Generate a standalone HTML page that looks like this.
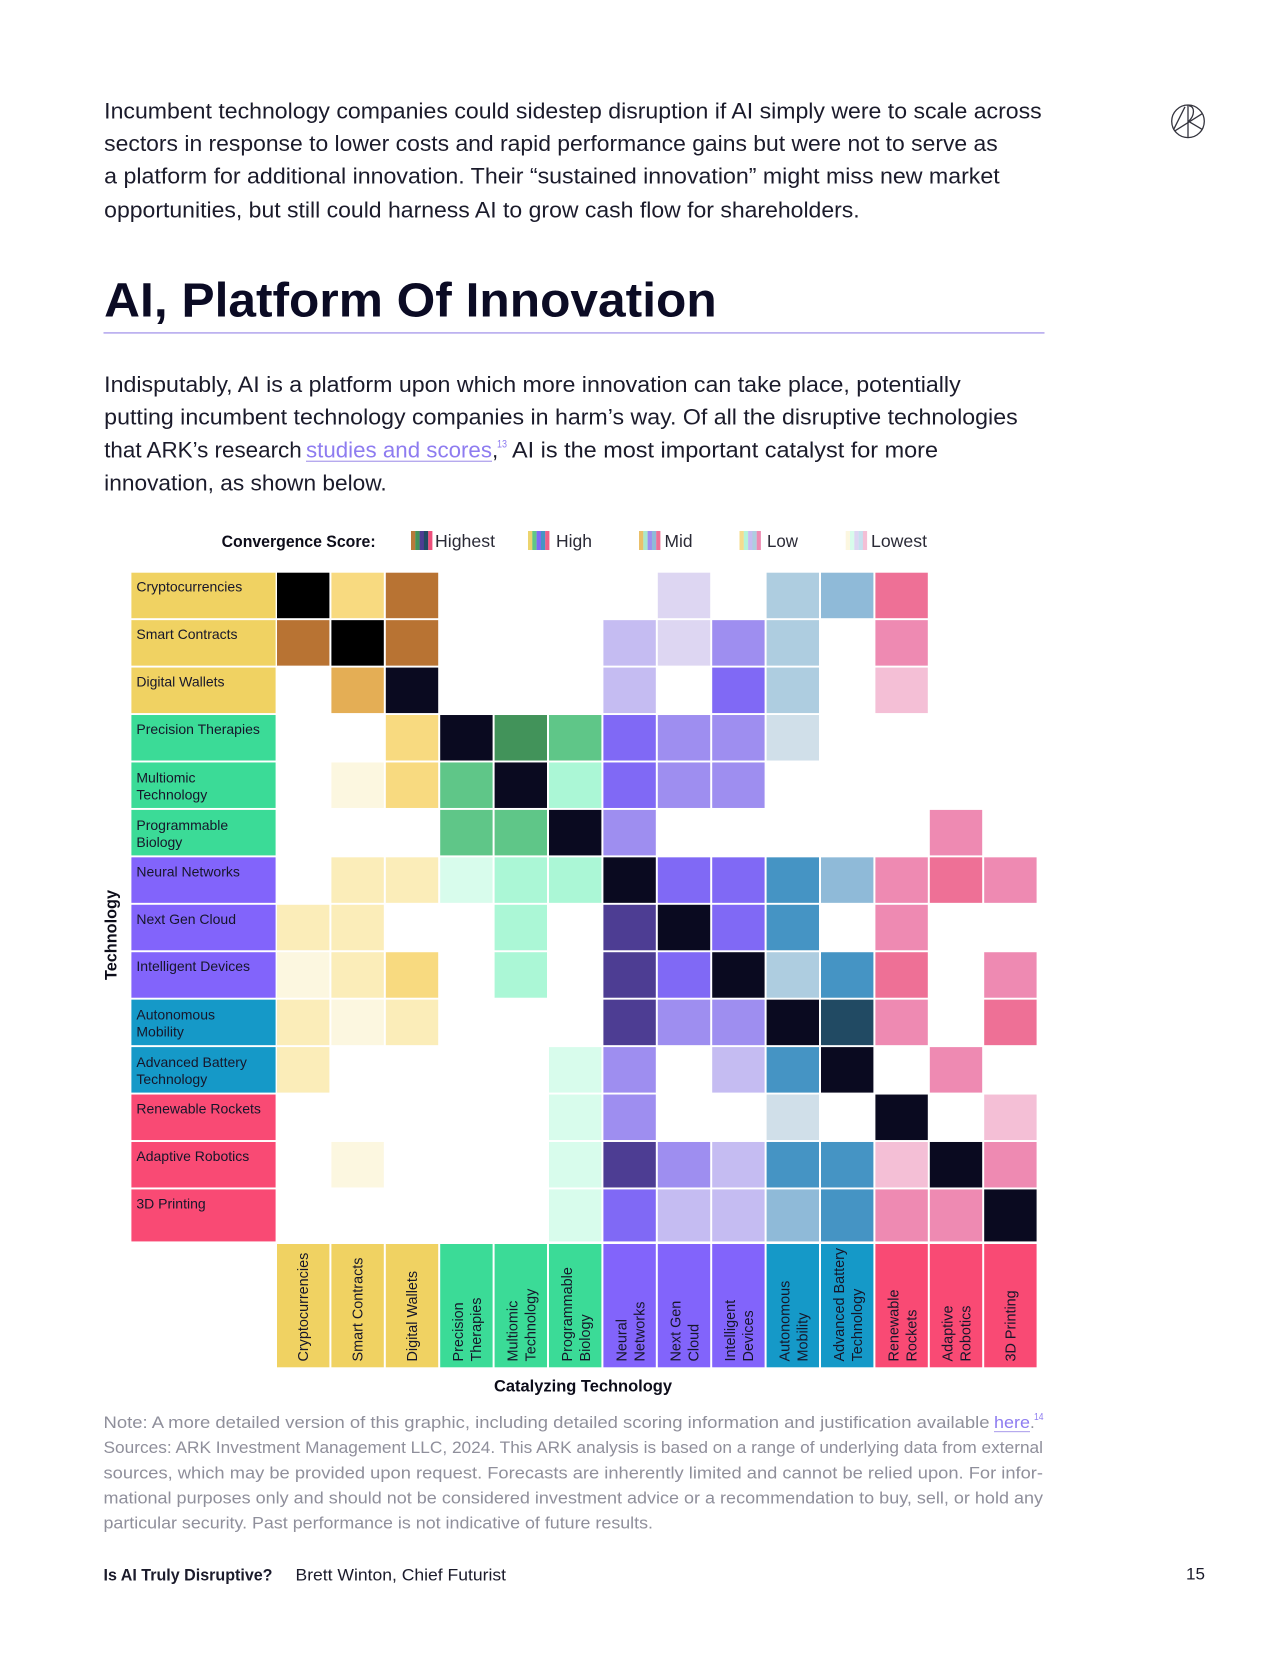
<!DOCTYPE html>
<html lang="en">
<head>
<meta charset="utf-8">
<title>AI, Platform Of Innovation</title>
<style>
html,body{margin:0;padding:0;background:#fff;}
svg{display:block;}
text{font-family:"Liberation Sans",sans-serif;}
.body-text{font-size:22.5px;fill:#1b1b2b;}
.note{font-size:17px;fill:#8f8f9b;}
.foot{font-size:17px;fill:#1b1b2b;}
.legend-text{font-size:17.5px;fill:#2a2a36;}
.axis-title{font-size:17px;font-weight:bold;fill:#0d0d1a;}
.row-label{font-size:14px;fill:#16162a;}
.col-label{font-size:14.4px;fill:#16162a;}
.link{fill:#8e7cf0;}
</style>
</head>
<body>
<svg id="page" xmlns="http://www.w3.org/2000/svg" width="1280" height="1656" viewBox="0 0 1280 1656">
<rect width="1280" height="1656" fill="#ffffff"/>

<g>
<text class="body-text" x="104.2" y="118.3" textLength="937.5" lengthAdjust="spacingAndGlyphs">Incumbent technology companies could sidestep disruption if AI simply were to scale across</text>
<text class="body-text" x="104.2" y="151.2" textLength="893.5" lengthAdjust="spacingAndGlyphs">sectors in response to lower costs and rapid performance gains but were not to serve as</text>
<text class="body-text" x="104.2" y="183.7" textLength="895.5" lengthAdjust="spacingAndGlyphs">a platform for additional innovation. Their “sustained innovation” might miss new market</text>
<text class="body-text" x="104.2" y="217.3" textLength="755.5" lengthAdjust="spacingAndGlyphs">opportunities, but still could harness AI to grow cash flow for shareholders.</text>
</g>

<g fill="none" stroke="#33333d" stroke-width="1.3" transform="translate(0,0.8)">
<circle cx="1188" cy="120.5" r="16.3"/>
<line x1="1188" y1="104.5" x2="1188" y2="137"/>
<line x1="1173.5" y1="129" x2="1185" y2="106"/>
<path d="M1189 105 C1195 105 1195 115 1188.5 120.5"/>
<line x1="1175" y1="130" x2="1202" y2="113"/>
<line x1="1188.5" y1="120.5" x2="1202" y2="128.5"/>
</g>

<text x="104.2" y="316.5" font-size="48" font-weight="bold" fill="#0b0b24" textLength="612.5" lengthAdjust="spacingAndGlyphs">AI, Platform Of Innovation</text>
<rect x="103.5" y="328.2" width="941" height="1.6" fill="#b6aaee" transform="translate(0,3.9)"/>

<g>
<text class="body-text" x="104.2" y="392" textLength="856.5" lengthAdjust="spacingAndGlyphs">Indisputably, AI is a platform upon which more innovation can take place, potentially</text>
<text class="body-text" x="104.2" y="424.5" textLength="913.5" lengthAdjust="spacingAndGlyphs">putting incumbent technology companies in harm’s way. Of all the disruptive technologies</text>
<text class="body-text" x="104.2" y="457.5" textLength="197.5" lengthAdjust="spacingAndGlyphs">that ARK’s research</text>
<text class="body-text link" x="306" y="457.5" textLength="186" lengthAdjust="spacingAndGlyphs">studies and scores</text>
<rect x="306" y="460.6" width="186" height="1.4" fill="#b6aaee"/>
<text class="body-text" x="492" y="457.5">,</text>
<text class="link" font-size="11" x="497" y="447.5" textLength="10" lengthAdjust="spacingAndGlyphs">13</text>
<text class="body-text" x="512" y="457.5" textLength="426" lengthAdjust="spacingAndGlyphs">AI is the most important catalyst for more</text>
<text class="body-text" x="104.2" y="490.5" textLength="282.5" lengthAdjust="spacingAndGlyphs">innovation, as shown below.</text>
</g>

<g>
<text x="221.6" y="547" font-size="17" font-weight="bold" fill="#0d0d1a" textLength="154" lengthAdjust="spacingAndGlyphs">Convergence Score:</text>

<g>
<g transform="translate(411,531)">
<rect x="0" width="4.4" height="19" fill="#b87a3b"/><rect x="4.3" width="4.4" height="19" fill="#42935a"/><rect x="8.6" width="4.4" height="19" fill="#4d3d93"/><rect x="12.9" width="4.4" height="19" fill="#214a63"/><rect x="17.2" width="4.2" height="19" fill="#ee4f7c"/>
</g>
<text class="legend-text" x="435" y="547" textLength="60" lengthAdjust="spacingAndGlyphs">Highest</text>
</g>

<g>
<g transform="translate(528,531)">
<rect x="0" width="4.4" height="19" fill="#ecd46e"/><rect x="4.3" width="4.4" height="19" fill="#5fc688"/><rect x="8.6" width="4.4" height="19" fill="#8069f5"/><rect x="12.9" width="4.4" height="19" fill="#4594c4"/><rect x="17.2" width="4.2" height="19" fill="#ee5f88"/>
</g>
<text class="legend-text" x="556" y="547" textLength="36" lengthAdjust="spacingAndGlyphs">High</text>
</g>

<g>
<g transform="translate(639,531)">
<rect x="0" width="4.4" height="19" fill="#eac06a"/><rect x="4.3" width="4.4" height="19" fill="#a9e8cc"/><rect x="8.6" width="4.4" height="19" fill="#9e8ef0"/><rect x="12.9" width="4.4" height="19" fill="#8fbad8"/><rect x="17.2" width="4.2" height="19" fill="#ee7096"/>
</g>
<text class="legend-text" x="664.5" y="547" textLength="28" lengthAdjust="spacingAndGlyphs">Mid</text>
</g>

<g>
<g transform="translate(739.5,531)">
<rect x="0" width="4.4" height="19" fill="#f4dc8e"/><rect x="4.3" width="4.4" height="19" fill="#b5f3d8"/><rect x="8.6" width="4.4" height="19" fill="#c5bcf2"/><rect x="12.9" width="4.4" height="19" fill="#aecde0"/><rect x="17.2" width="4.2" height="19" fill="#ee8ab2"/>
</g>
<text class="legend-text" x="767" y="547" textLength="31" lengthAdjust="spacingAndGlyphs">Low</text>
</g>

<g>
<g transform="translate(845.7,531)">
<rect x="0" width="4.4" height="19" fill="#fcf7e0"/><rect x="4.3" width="4.4" height="19" fill="#d8fcec"/><rect x="8.6" width="4.4" height="19" fill="#ddd6f2"/><rect x="12.9" width="4.4" height="19" fill="#c6e0ee"/><rect x="17.2" width="4.2" height="19" fill="#f4bfd6"/>
</g>
<text class="legend-text" x="871" y="547" textLength="56" lengthAdjust="spacingAndGlyphs">Lowest</text>
</g>
</g>

<g id="heatmap"></g>

<text class="axis-title" transform="translate(116.5,980) rotate(-90)" textLength="90" lengthAdjust="spacingAndGlyphs">Technology</text>
<text class="axis-title" x="488" y="1375" dx="6" dy="16.5" textLength="178" lengthAdjust="spacingAndGlyphs">Catalyzing Technology</text>

<g>
<text class="note" x="103.5" y="1428" textLength="886" lengthAdjust="spacingAndGlyphs">Note: A more detailed version of this graphic, including detailed scoring information and justification available</text>
<text class="note link" x="994" y="1428" textLength="36" lengthAdjust="spacingAndGlyphs">here</text>
<rect x="994" y="1431" width="36" height="1.2" fill="#b6aaee"/>
<text class="note" x="1030" y="1428">.</text>
<text class="link" font-size="10" x="1034" y="1420" textLength="9.5" lengthAdjust="spacingAndGlyphs">14</text>
<text class="note" x="103.5" y="1453" textLength="939.5" lengthAdjust="spacingAndGlyphs">Sources: ARK Investment Management LLC, 2024. This ARK analysis is based on a range of underlying data from external</text>
<text class="note" x="103.5" y="1478.5" textLength="939.5" lengthAdjust="spacingAndGlyphs">sources, which may be provided upon request. Forecasts are inherently limited and cannot be relied upon. For infor-</text>
<text class="note" x="103.5" y="1503.5" textLength="939.5" lengthAdjust="spacingAndGlyphs">mational purposes only and should not be considered investment advice or a recommendation to buy, sell, or hold any</text>
<text class="note" x="103.5" y="1528.5" textLength="549.5" lengthAdjust="spacingAndGlyphs">particular security. Past performance is not indicative of future results.</text>
</g>

<g>
<text class="foot" font-weight="bold" x="103.5" y="1580.5" textLength="169" lengthAdjust="spacingAndGlyphs">Is AI Truly Disruptive?</text>
<text class="foot" x="295.5" y="1580.5" textLength="210.5" lengthAdjust="spacingAndGlyphs">Brett Winton, Chief Futurist</text>
<text class="foot" font-size="18" x="1186" y="1579.5" textLength="19" lengthAdjust="spacingAndGlyphs">15</text>
</g>
</svg>

<script>
// Row categories (technology) and column categories (catalyzing technology)
const rowCategories = ["Cryptocurrencies","Smart Contracts","Digital Wallets","Precision Therapies","Multiomic\nTechnology","Programmable\nBiology","Neural Networks","Next Gen Cloud","Intelligent Devices","Autonomous\nMobility","Advanced Battery\nTechnology","Renewable Rockets","Adaptive Robotics","3D Printing"];
const colCategories = ["Cryptocurrencies","Smart Contracts","Digital Wallets","Precision\nTherapies","Multiomic\nTechnology","Programmable\nBiology","Neural\nNetworks","Next Gen\nCloud","Intelligent\nDevices","Autonomous\nMobility","Advanced Battery\nTechnology","Renewable\nRockets","Adaptive\nRobotics","3D Printing"];
// Sector family per category
const families = ["yellow","yellow","yellow","green","green","green","purple","purple","purple","blue","blue","pink","pink","pink"];
// Scores: 0 blank, 1 lowest, 2 low, 3 mid, 4 high, 5 highest, 6 self (navy), 7 self (black)
const scoreRow00 = [7,3,5,0,0,0,0,1,0,2,3,4,0,0];
const scoreRow01 = [5,7,5,0,0,0,2,1,3,2,0,3,0,0];
const scoreRow02 = [0,4,6,0,0,0,2,0,4,2,0,2,0,0];
const scoreRow03 = [0,0,3,6,5,4,4,3,3,1,0,0,0,0];
const scoreRow04 = [0,1,3,4,6,2,4,3,3,0,0,0,0,0];
const scoreRow05 = [0,0,0,4,4,6,3,0,0,0,0,0,3,0];
const scoreRow06 = [0,2,2,1,2,2,6,4,4,4,3,3,4,3];
const scoreRow07 = [2,2,0,0,2,0,5,6,4,4,0,3,0,0];
const scoreRow08 = [1,2,3,0,2,0,5,4,6,2,4,4,0,3];
const scoreRow09 = [2,1,2,0,0,0,5,3,3,6,5,3,0,4];
const scoreRow10 = [2,0,0,0,0,1,3,0,2,4,6,0,3,0];
const scoreRow11 = [0,0,0,0,0,1,3,0,0,1,0,6,0,2];
const scoreRow12 = [0,1,0,0,0,1,5,3,2,4,4,2,6,3];
const scoreRow13 = [0,0,0,0,0,1,4,2,2,3,4,3,3,6];
const scores = [scoreRow00,scoreRow01,scoreRow02,scoreRow03,scoreRow04,scoreRow05,scoreRow06,scoreRow07,scoreRow08,scoreRow09,scoreRow10,scoreRow11,scoreRow12,scoreRow13];
// Colour ramps by family, index = score
const yellowRamp = ["none","#fcf7e0","#fbedb9","#f8da80","#e4ae55","#b87333","#0a0a20","#000000"];
const greenRamp = ["none","#d8fcec","#abf7d6","#abf7d6","#5fc688","#42935a","#0a0a20","#000000"];
const purpleRamp = ["none","#ddd6f2","#c5bcf2","#9e8ef0","#8069f5","#4d3d93","#0a0a20","#000000"];
const blueRamp = ["none","#d0dfe9","#aecde0","#8fbad8","#4594c4","#214a63","#0a0a20","#000000"];
const pinkRamp = ["none","#f4bfd6","#f4bfd6","#ee8ab2","#ee7096","#ee4f7c","#0a0a20","#000000"];
const ramps = {yellow:yellowRamp,green:greenRamp,purple:purpleRamp,blue:blueRamp,pink:pinkRamp};
const headerColors = {yellow:"#f0d262",green:"#3bdb97",purple:"#8264fb",blue:"#1599c8",pink:"#f94a74"};

const SVGNS = "http://www.w3.org/2000/svg";
const root = document.getElementById("heatmap");

// Axis functions
const gridLeft = 277, colPitch = 54.4, colWidth = 52.4;
const gridTop = 572.7, rowPitch = 47.44, rowHeight = 45.5;
const labelLeft = 131.4, labelWidth = 144.2;
const headerTop = 1244, headerBottom = 1367.3;
function xScale(c){ return gridLeft + c * colPitch; }
function yScale(r){ return gridTop + r * rowPitch; }
function bandHeight(r){ return r === rowCategories.length - 1 ? rowHeight + 6.5 : rowHeight; }
function slug(s){ return s.toLowerCase().replace(/\s+/g,"-"); }

function makeRect(x,y,w,h,fill){
  const el = document.createElementNS(SVGNS,"rect");
  el.setAttribute("x",x);
  el.setAttribute("y",y);
  el.setAttribute("width",w);
  el.setAttribute("height",h);
  el.setAttribute("fill",fill);
  return el;
}

rowCategories.forEach(function(name,r){
  const head = makeRect(labelLeft,yScale(r),labelWidth,bandHeight(r),headerColors[families[r]]);
  
  
  root.appendChild(head);
  name.split("\n").forEach(function(line,k){
    const t = document.createElementNS(SVGNS,"text");
    t.setAttribute("class","row-label");
    t.setAttribute("x",labelLeft + 5);
    t.setAttribute("y",yScale(r) + (name.indexOf("\n") >= 0 ? 20 : 19) + k * 17);
    t.textContent = line;
    
    
    root.appendChild(t);
  });
  scores[r].forEach(function(score,c){
    if(score === 0){ return; }
    const cell = makeRect(xScale(c),yScale(r),colWidth,bandHeight(r),ramps[families[c]][score]);
    
    
    cell.setAttribute("data-score",score);
    root.appendChild(cell);
  });
});

colCategories.forEach(function(name,c){
  const head = makeRect(xScale(c),headerTop,colWidth,headerBottom - headerTop,headerColors[families[c]]);
  
  
  root.appendChild(head);
  const lines = name.split("\n");
  lines.forEach(function(line,k){
    const t = document.createElementNS(SVGNS,"text");
    const cx = xScale(c) + colWidth / 2 + (lines.length > 1 ? (k === 0 ? -9 + 5.7 : 9 + 5.7) : 4.9);
    t.setAttribute("class","col-label");
    t.setAttribute("transform","translate(" + cx + "," + (headerBottom - 5.8) + ") rotate(-90)");
    t.textContent = line;
    
    
    root.appendChild(t);
  });
});
</script>
</body>
</html>
